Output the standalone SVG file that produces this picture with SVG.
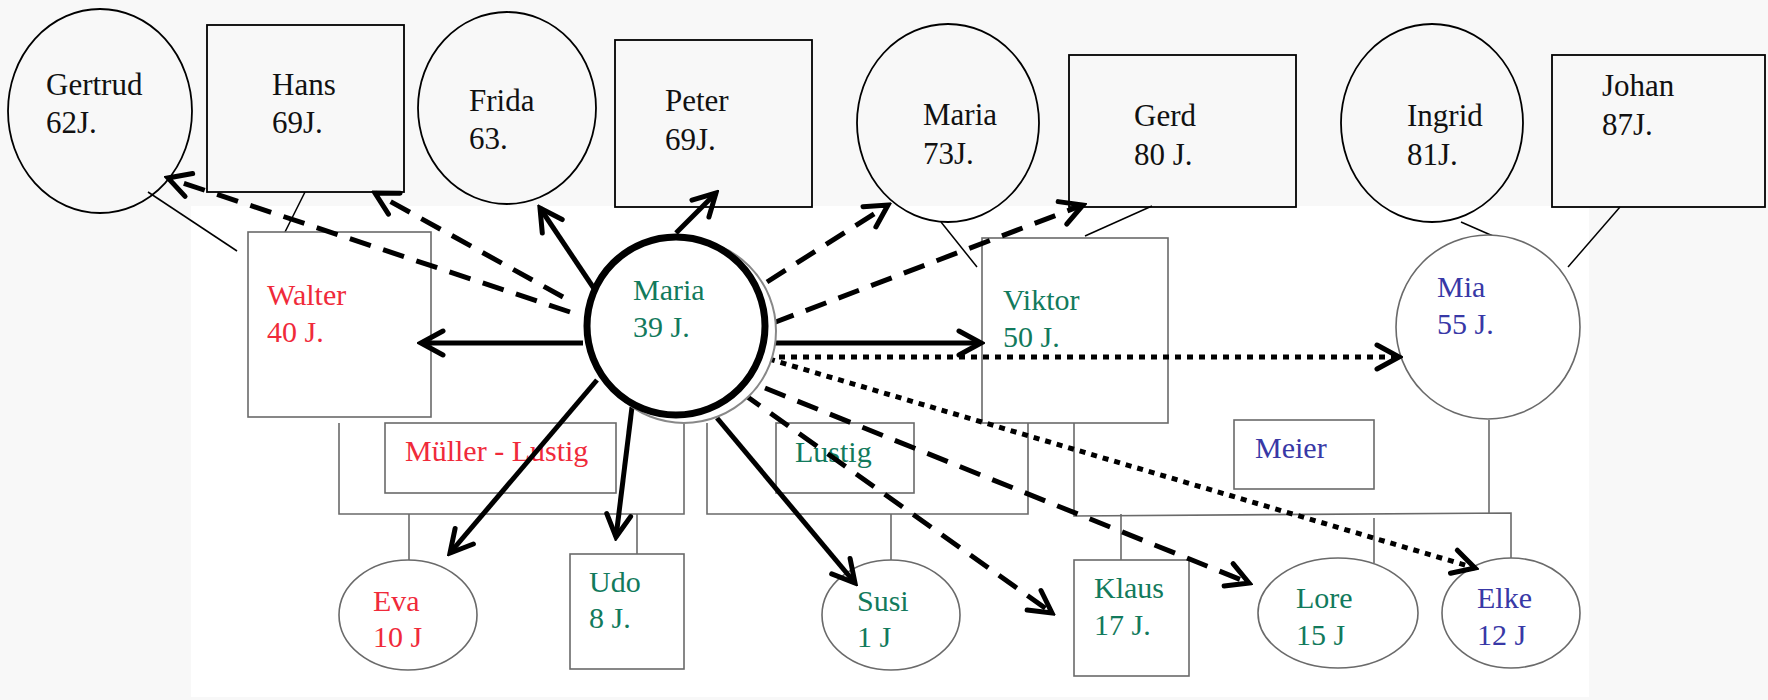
<svg xmlns="http://www.w3.org/2000/svg" width="1768" height="700" viewBox="0 0 1768 700">
<defs>
<style>
.top{fill:none;stroke:#000;stroke-width:1.8}
.low{fill:#fff;stroke:#6a6a6a;stroke-width:1.6}
.lbl{fill:none;stroke:#6a6a6a;stroke-width:1.6}
.tt{font-family:"Liberation Serif","Times New Roman",serif;font-size:31px;fill:#111}
.tl{font-family:"Liberation Serif","Times New Roman",serif;font-size:30px}
.red{fill:#f02a3a}
.grn{fill:#127a5c}
.blu{fill:#3838a6}
.fam{fill:none;stroke:#6a6a6a;stroke-width:1.6}
.par{fill:none;stroke:#000;stroke-width:1.5}
.sol{fill:none;stroke:#000;stroke-width:5;marker-end:url(#ah)}
.dsh{fill:none;stroke:#000;stroke-width:5;stroke-dasharray:22 13;marker-end:url(#ah)}
.dot{fill:none;stroke:#000;stroke-width:5;stroke-dasharray:6 6;marker-end:url(#ah)}
</style>
<marker id="ah" markerUnits="userSpaceOnUse" markerWidth="32" markerHeight="32" viewBox="-28 -16 32 32" refX="0" refY="0" orient="auto">
<path d="M-22,-12 L0,0 L-22,12" fill="none" stroke="#000" stroke-width="5" stroke-linejoin="miter" stroke-linecap="round"/>
</marker>
</defs>
<rect x="0" y="0" width="1768" height="700" fill="#f8f8f8"/>
<rect x="191" y="206" width="1398" height="491" fill="#fff"/>

<g id="connectors">
<path class="par" d="M148,192 L237,251"/>
<path class="par" d="M305,192 L283,236"/>
<path class="par" d="M941,222 L977,267"/>
<path class="par" d="M1152,206 L1085,236"/>
<path class="par" d="M1461,222 L1493,236"/>
<path class="par" d="M1620,207 L1568,267"/>
<path class="fam" d="M339,423 V514 H684 V423"/>
<path class="fam" d="M409,514 V561"/>
<path class="fam" d="M637,514 V561"/>
<path class="fam" d="M707,423 V514 H1028 V423"/>
<path class="fam" d="M891,514 V561"/>
<path class="fam" d="M1074,423 V516 L1511,513 V558"/>
<path class="fam" d="M1489,420 V513"/>
<path class="fam" d="M1121,514 V560"/>
<path class="fam" d="M1374,518 V563"/>
</g>

<g id="gertrud"><ellipse class="top" cx="100" cy="111" rx="92" ry="102"/><text class="tt" x="46" y="95">Gertrud</text><text class="tt" x="46" y="133">62J.</text></g>
<g id="hans"><rect class="top" x="207" y="25" width="197" height="167"/><text class="tt" x="272" y="95">Hans</text><text class="tt" x="272" y="133">69J.</text></g>
<g id="frida"><ellipse class="top" cx="507" cy="108" rx="89" ry="96"/><text class="tt" x="469" y="111">Frida</text><text class="tt" x="469" y="149">63.</text></g>
<g id="peter"><rect class="top" x="615" y="40" width="197" height="167"/><text class="tt" x="665" y="111">Peter</text><text class="tt" x="665" y="150">69J.</text></g>
<g id="maria73"><ellipse class="top" cx="948" cy="123" rx="91" ry="99"/><text class="tt" x="923" y="125">Maria</text><text class="tt" x="923" y="164">73J.</text></g>
<g id="gerd"><rect class="top" x="1069" y="55" width="227" height="152"/><text class="tt" x="1134" y="126">Gerd</text><text class="tt" x="1134" y="165">80 J.</text></g>
<g id="ingrid"><ellipse class="top" cx="1432" cy="123" rx="91" ry="99"/><text class="tt" x="1407" y="126">Ingrid</text><text class="tt" x="1407" y="165">81J.</text></g>
<g id="johan"><rect class="top" x="1552" y="55" width="213" height="152"/><text class="tt" x="1602" y="96">Johan</text><text class="tt" x="1602" y="135">87J.</text></g>

<g id="walter"><rect class="low" x="248" y="232" width="183" height="185"/><text class="tl red" x="267" y="305">Walter</text><text class="tl red" x="267" y="342">40 J.</text></g>
<g id="viktor"><rect class="low" x="982" y="238" width="186" height="185"/><text class="tl grn" x="1003" y="310">Viktor</text><text class="tl grn" x="1003" y="347">50 J.</text></g>
<g id="mia"><circle class="low" cx="1488" cy="327" r="92"/><text class="tl blu" x="1437" y="297">Mia</text><text class="tl blu" x="1437" y="334">55 J.</text></g>
<g id="muellerlustig"><rect class="lbl" x="385" y="423" width="231" height="70"/><text class="tl red" x="405" y="461">Müller - Lustig</text></g>
<g id="lustig"><rect class="lbl" x="776" y="423" width="138" height="70"/><text class="tl grn" x="795" y="462">Lustig</text></g>
<g id="meier"><rect class="lbl" x="1234" y="420" width="140" height="69"/><text class="tl blu" x="1255" y="458">Meier</text></g>
<g id="eva"><ellipse class="low" cx="408" cy="615" rx="69" ry="55"/><text class="tl red" x="373" y="611">Eva</text><text class="tl red" x="373" y="647">10 J</text></g>
<g id="udo"><rect class="low" x="570" y="554" width="114" height="115"/><text class="tl grn" x="589" y="592">Udo</text><text class="tl grn" x="589" y="628">8 J.</text></g>
<g id="susi"><ellipse class="low" cx="891" cy="615" rx="69" ry="55"/><text class="tl grn" x="857" y="611">Susi</text><text class="tl grn" x="857" y="647">1 J</text></g>
<g id="klaus"><rect class="low" x="1074" y="560" width="115" height="116"/><text class="tl grn" x="1094" y="598">Klaus</text><text class="tl grn" x="1094" y="635">17 J.</text></g>
<g id="lore"><ellipse class="low" cx="1338" cy="613" rx="80" ry="55"/><text class="tl grn" x="1296" y="608">Lore</text><text class="tl grn" x="1296" y="645">15 J</text></g>
<g id="elke"><ellipse class="low" cx="1511" cy="613" rx="69" ry="55"/><text class="tl blu" x="1477" y="608">Elke</text><text class="tl blu" x="1477" y="645">12 J</text></g>

<g id="arrows">
<path class="sol" d="M583,343 L421,343"/>
<path class="sol" d="M766,343 L981,343"/>
<path class="sol" d="M597,293 L540,208"/>
<path class="sol" d="M676,233 L716,193"/>
<path class="sol" d="M597,380 L450,553"/>
<path class="sol" d="M632,407 L616,537"/>
<path class="sol" d="M717,418 L855,583"/>
<path class="dsh" d="M570,312 L168,178"/>
<path class="dsh" d="M563,297 L375,193"/>
<path class="dsh" d="M767,282 L888,205"/>
<path class="dsh" d="M773,323 L1083,205"/>
<path class="dsh" d="M742,393 L1052,613"/>
<path class="dsh" d="M765,388 L1249,583"/>
<path class="dot" d="M767,357 L1399,357"/>
<path class="dot" d="M769,359 L1475,568"/>
</g>

<g id="maria39">
<circle cx="684" cy="331" r="92" fill="#fff" stroke="#888" stroke-width="2"/>
<circle cx="676" cy="326" r="89" fill="#fff" stroke="#000" stroke-width="7"/>
<text class="tl grn" x="633" y="300">Maria</text><text class="tl grn" x="633" y="337">39 J.</text>
</g>
</svg>
